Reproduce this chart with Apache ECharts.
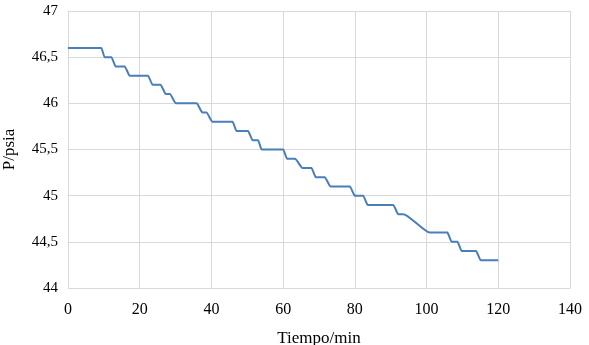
<!DOCTYPE html>
<html>
<head>
<meta charset="utf-8">
<script src="https://cdn.jsdelivr.net/npm/echarts@6/dist/echarts.min.js"></script>
<style>
	html, body { margin: 0; padding: 0; background: #fff; }
	#chart { width: 589px; height: 345px; }
</style>
</head>
<body>
<div id="chart"></div>
<script>
// 시간(분) / 압력(psia) - 계단 모서리 값
var timeMin = [0, 9.3, 10.2, 12.1, 13.3, 15.8, 17.2, 22.3, 23.6, 25.8, 27.3, 28.4, 30.1, 35.9,
	37.5, 38.6, 40.3, 45.9, 47.0, 50.2, 51.5, 53.0, 54.0, 60.0, 61.1, 63.3, 65.4, 67.9,
	69.1, 71.6, 73.2, 78.6, 80.0, 82.3, 83.6, 90.7, 92.1, 93.5, 100.9, 105.8, 107.0, 108.6,
	109.8, 113.8, 115.1, 120];
var pressure = [46.6, 46.6, 46.5, 46.5, 46.4, 46.4, 46.3, 46.3, 46.2, 46.2, 46.1, 46.1, 46.0, 46.0,
	45.9, 45.9, 45.8, 45.8, 45.7, 45.7, 45.6, 45.6, 45.5, 45.5, 45.4, 45.4, 45.3, 45.3,
	45.2, 45.2, 45.1, 45.1, 45.0, 45.0, 44.9, 44.9, 44.8, 44.8, 44.6, 44.6, 44.5, 44.5,
	44.4, 44.4, 44.3, 44.3];

var xTicks = [0, 140, 20];
var yTicks = [44, 47, 0.5];

var lineData = [];
timeMin.forEach(function(t, i) {
	lineData.push([t, pressure[i]]);
});

var chart = echarts.init(document.getElementById('chart'));
var font = 'Liberation Serif, Times New Roman, serif';
var option = {
	animation: false,
	grid: {
		left: 68,
		right: 19,
		top: 11,
		bottom: 57,
		containLabel: false,
		outerBoundsMode: 'none'
	},
	xAxis: {
		type: 'value',
		min: xTicks[0],
		max: xTicks[1],
		interval: xTicks[2],
		name: 'Tiempo/min',
		nameLocation: 'middle',
		nameGap: 42,
		nameTextStyle: { fontFamily: font, fontSize: 17, color: '#000' },
		axisLine: { show: true, lineStyle: { color: '#d9d9d9' } },
		axisTick: { show: false },
		axisLabel: { fontFamily: font, fontSize: 16, color: '#000', margin: 14 },
		splitLine: { show: true, lineStyle: { color: '#d9d9d9' } }
	},
	yAxis: {
		type: 'value',
		min: yTicks[0],
		max: yTicks[1],
		interval: yTicks[2],
		name: 'P/psia',
		nameLocation: 'middle',
		nameGap: 50,
		nameTextStyle: { fontFamily: font, fontSize: 17, color: '#000' },
		axisLine: { show: true, lineStyle: { color: '#d9d9d9' } },
		axisTick: { show: false },
		axisLabel: {
			fontFamily: font, fontSize: 15, color: '#000', margin: 10,
			formatter: function(v) { return String(v).replace('.', ','); }
		},
		splitLine: { show: true, lineStyle: { color: '#d9d9d9' } }
	},
	series: [{
		type: 'line',
		data: lineData,
		showSymbol: false,
		smooth: 0.2,
		smoothMonotone: 'x',
		lineStyle: { color: '#4a7ebb', width: 2 }
	}]
};
chart.setOption(option);
</script>
</body>
</html>
